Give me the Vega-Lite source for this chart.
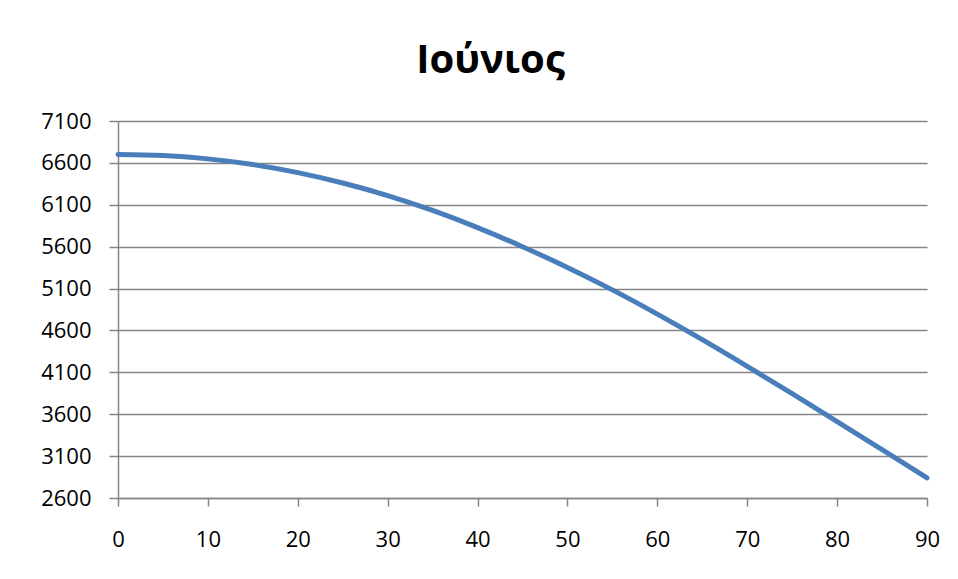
{
  "$schema": "https://vega.github.io/schema/vega-lite/v6.json",
  "width": 809,
  "height": 377,
  "autosize": {"type": "none"},
  "padding": {"left": 118, "top": 121, "right": 31, "bottom": 81},
  "background": "white",
  "title": {
    "text": "Ιούνιος",
    "font": "Open Sans",
    "fontSize": 40,
    "fontWeight": "bold",
    "color": "#000000",
    "anchor": "middle",
    "baseline": "alphabetic",
    "offset": -3,
    "dx": -32
  },
  "data": {
    "values": [
      {"x": 0, "y": 6700},
      {"x": 5, "y": 6688},
      {"x": 10, "y": 6648},
      {"x": 15, "y": 6580},
      {"x": 20, "y": 6484},
      {"x": 25, "y": 6360},
      {"x": 30, "y": 6210},
      {"x": 35, "y": 6032},
      {"x": 40, "y": 5828},
      {"x": 45, "y": 5600},
      {"x": 50, "y": 5352},
      {"x": 55, "y": 5084},
      {"x": 60, "y": 4795},
      {"x": 65, "y": 4490},
      {"x": 70, "y": 4172},
      {"x": 75, "y": 3845},
      {"x": 80, "y": 3512},
      {"x": 85, "y": 3177},
      {"x": 90, "y": 2840}
    ]
  },
  "mark": {"type": "line", "color": "#4A7EBB", "strokeWidth": 5, "strokeCap": "round", "interpolate": "monotone"},
  "encoding": {
    "x": {
      "field": "x",
      "type": "quantitative",
      "scale": {"domain": [0, 90], "nice": false, "zero": false},
      "axis": {
        "title": null,
        "values": [0, 10, 20, 30, 40, 50, 60, 70, 80, 90],
        "grid": false,
        "labelFlush": false,
        "domainColor": "#868686",
        "domainWidth": 1.5,
        "tickColor": "#868686",
        "tickWidth": 1.5,
        "tickSize": 8,
        "labelPadding": 23,
        "labelFont": "Open Sans",
        "labelFontSize": 22,
        "labelColor": "#000000"
      }
    },
    "y": {
      "field": "y",
      "type": "quantitative",
      "scale": {"domain": [2600, 7100], "nice": false, "zero": false},
      "axis": {
        "title": null,
        "values": [2600, 3100, 3600, 4100, 4600, 5100, 5600, 6100, 6600, 7100],
        "format": "d",
        "grid": true,
        "gridColor": "#868686",
        "gridWidth": 1.5,
        "gridOpacity": 1,
        "domainColor": "#868686",
        "domainWidth": 1.5,
        "tickColor": "#868686",
        "tickWidth": 1.5,
        "tickSize": 9,
        "labelPadding": 18,
        "labelFont": "Open Sans",
        "labelFontSize": 22,
        "labelColor": "#000000"
      }
    }
  },
  "config": {"view": {"stroke": null}}
}
